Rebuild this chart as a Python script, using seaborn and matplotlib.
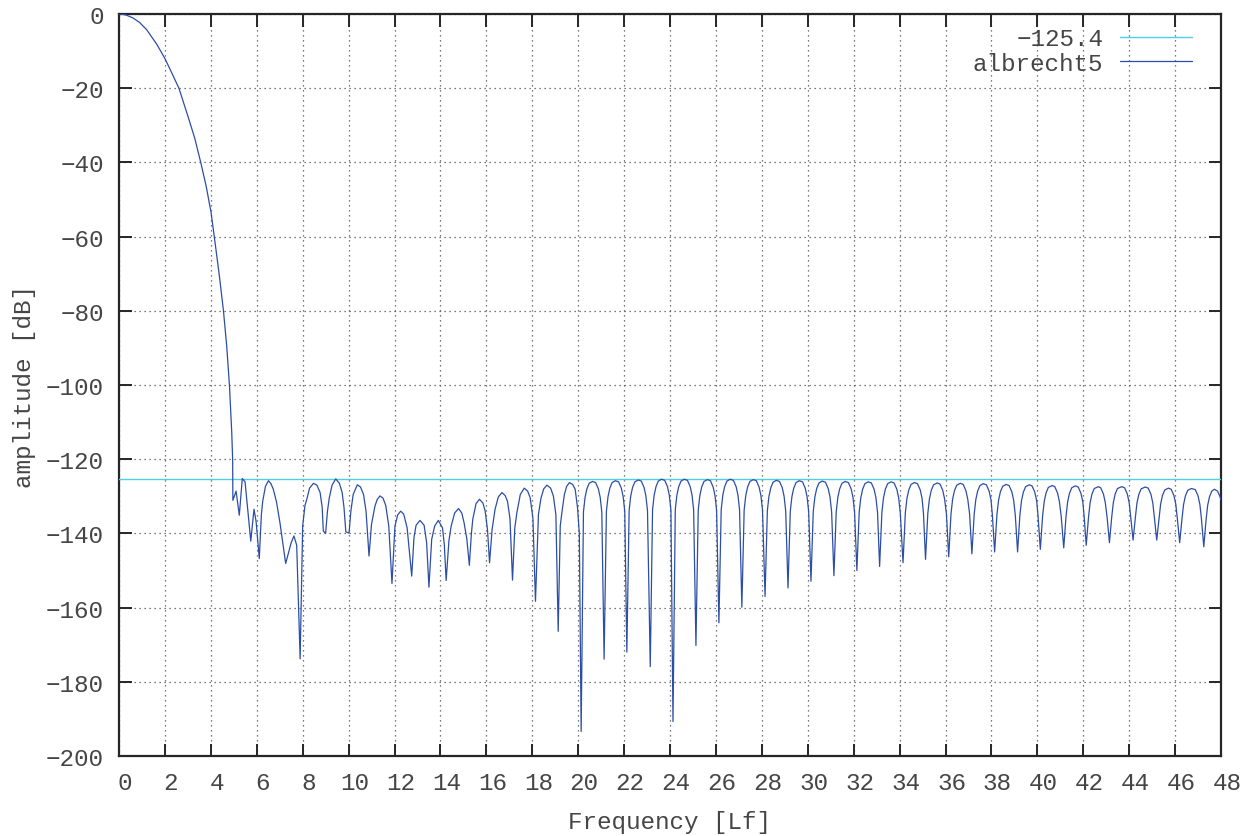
import matplotlib
matplotlib.use("Agg")
import matplotlib.pyplot as plt
import matplotlib.transforms as mtransforms
import seaborn as sns
import pandas as pd

# ---------------- data ----------------
freq = [
    # main lobe
    0.0, 0.3, 0.62, 0.9, 1.2, 1.64, 2.0, 2.3, 2.61, 3.02, 3.3, 3.56, 3.8, 4.01, 4.15, 4.37, 4.55, 4.69, 4.81, 4.91, 4.95,
    # irregular first side lobes
    4.96, 5.10, 5.24, 5.37, 5.49, 5.74, 5.88, 5.97, 6.11, 6.20, 6.26, 6.38, 6.51, 6.62, 6.72, 6.86, 7.01, 7.26,
    7.50, 7.62, 7.74, 7.89,
    8.00, 8.10, 8.18, 8.30, 8.47, 8.62, 8.76, 8.85, 8.90, 9.00,
    9.08, 9.16, 9.28, 9.44, 9.60, 9.72, 9.80, 9.88, 10.02,
    10.10, 10.20, 10.38, 10.52, 10.65, 10.76, 10.89,
    11.00, 11.15, 11.25, 11.37, 11.50, 11.62, 11.75, 11.89,
    12.02, 12.14, 12.27, 12.40, 12.55, 12.75,
    12.85, 12.94, 13.11, 13.29, 13.40, 13.50,
    13.62, 13.75, 13.91, 14.09, 14.17, 14.25,
    14.37, 14.47, 14.62, 14.79, 14.93, 15.03, 15.15, 15.26,
    15.35, 15.41, 15.55, 15.70, 15.85, 15.95, 16.05, 16.14,
    16.25, 16.38, 16.52, 16.68, 16.82, 16.92, 17.03, 17.14,
    17.24, 17.33, 17.48, 17.65, 17.80, 17.91, 18.03, 18.14,
    18.27, 18.38, 18.50, 18.64, 18.80, 18.92, 19.03, 19.13,
    19.22, 19.29, 19.40, 19.50, 19.62, 19.76, 19.87, 19.97, 20.05,
    # regular side lobes
    20.13, 20.23, 20.30, 20.38, 20.48, 20.62, 20.76, 20.88, 20.96, 21.03,
    21.13, 21.23, 21.30, 21.38, 21.48, 21.62, 21.76, 21.88, 21.96, 22.03,
    22.12, 22.22, 22.29, 22.37, 22.47, 22.62, 22.75, 22.87, 22.95, 23.02,
    23.14, 23.24, 23.31, 23.39, 23.49, 23.63, 23.77, 23.89, 23.97, 24.04,
    24.13, 24.23, 24.30, 24.38, 24.48, 24.62, 24.76, 24.88, 24.96, 25.03,
    25.13, 25.23, 25.30, 25.38, 25.48, 25.63, 25.76, 25.88, 25.96, 26.03,
    26.13, 26.23, 26.30, 26.38, 26.48, 26.62, 26.76, 26.88, 26.96, 27.03,
    27.13, 27.23, 27.30, 27.38, 27.48, 27.63, 27.76, 27.88, 27.96, 28.03,
    28.14, 28.24, 28.31, 28.39, 28.49, 28.63, 28.77, 28.89, 28.97, 29.04,
    29.14, 29.24, 29.31, 29.39, 29.49, 29.63, 29.77, 29.89, 29.97, 30.04,
    30.14, 30.24, 30.31, 30.39, 30.49, 30.63, 30.77, 30.89, 30.97, 31.04,
    31.14, 31.24, 31.31, 31.39, 31.49, 31.63, 31.77, 31.89, 31.97, 32.04,
    32.14, 32.24, 32.31, 32.39, 32.49, 32.63, 32.77, 32.89, 32.97, 33.04,
    33.13, 33.23, 33.30, 33.38, 33.48, 33.63, 33.76, 33.88, 33.96, 34.03,
    34.15, 34.25, 34.32, 34.40, 34.50, 34.64, 34.78, 34.90, 34.98, 35.04,
    35.13, 35.23, 35.30, 35.38, 35.48, 35.64, 35.76, 35.88, 35.96, 36.04,
    36.14, 36.24, 36.31, 36.39, 36.49, 36.64, 36.77, 36.89, 36.97, 37.05,
    37.15, 37.25, 37.32, 37.40, 37.50, 37.64, 37.78, 37.90, 37.98, 38.04,
    38.14, 38.24, 38.31, 38.39, 38.49, 38.64, 38.77, 38.89, 38.97, 39.04,
    39.14, 39.24, 39.31, 39.39, 39.49, 39.65, 39.77, 39.89, 39.97, 40.03,
    40.13, 40.23, 40.30, 40.38, 40.48, 40.65, 40.76, 40.88, 40.96, 41.04,
    41.15, 41.25, 41.32, 41.40, 41.50, 41.65, 41.78, 41.90, 41.98, 42.04,
    42.13, 42.23, 42.30, 42.38, 42.48, 42.66, 42.76, 42.88, 42.96, 43.04,
    43.14, 43.24, 43.31, 43.39, 43.49, 43.68, 43.80, 43.92, 44.00, 44.07,
    44.17, 44.27, 44.34, 44.42, 44.52, 44.70, 44.83, 44.95, 45.03, 45.10,
    45.20, 45.30, 45.37, 45.45, 45.55, 45.71, 45.83, 45.95, 46.03, 46.10,
    46.20, 46.30, 46.37, 46.45, 46.55, 46.71, 46.88, 47.00, 47.08, 47.15,
    47.25, 47.35, 47.42, 47.50, 47.60, 47.71, 47.85, 47.95, 48.00,
]
amplitude = [
    0.0, -0.25, -1.1, -2.3, -4.2, -8.1, -12.0, -15.9, -20.0, -27.9, -33.5, -40.0, -46.5, -53.5, -60.0, -70.5, -80.0, -89.4, -100.0, -112.7, -120.0,
    -131.1, -128.6, -135.1, -125.2, -126.1, -142.1, -133.5, -136.7, -146.8, -135.0, -131.3, -127.3, -125.8, -126.6, -128.1, -131.5, -137.1, -148.1,
    -142.5, -140.7, -143.2, -173.8,
    -138.0, -132.5, -130.8, -127.8, -126.5, -127.0, -129.0, -133.0, -139.4, -140.0,
    -134.0, -130.4, -127.0, -125.3, -126.5, -129.0, -133.0, -139.6, -139.9,
    -134.0, -129.5, -126.9, -127.5, -129.5, -134.0, -146.1,
    -137.5, -132.6, -130.8, -129.9, -130.5, -132.5, -138.0, -153.5,
    -138.0, -135.0, -134.0, -134.8, -138.5, -151.5,
    -141.0, -137.8, -136.5, -137.8, -142.5, -154.5,
    -141.6, -138.0, -136.5, -138.5, -143.0, -152.7,
    -142.0, -138.0, -134.5, -133.3, -134.5, -137.1, -141.5, -148.6,
    -140.0, -136.2, -132.0, -130.8, -131.8, -134.0, -139.0, -147.9,
    -139.0, -133.5, -130.2, -129.0, -129.8, -131.3, -136.0, -152.6,
    -138.5, -134.4, -129.5, -127.8, -128.6, -130.4, -136.0, -158.3,
    -134.9, -130.5, -128.0, -127.0, -127.8, -129.9, -135.0, -166.4,
    -138.0, -134.4, -129.5, -127.3, -126.3, -126.8, -128.1, -133.0, -140.0,
    -193.4, -134.2, -130.3, -128.0, -126.5, -126.0, -126.3, -128.0, -130.3, -134.3,
    -173.9, -134.0, -130.1, -127.8, -126.3, -125.8, -126.1, -127.8, -130.1, -134.1,
    -172.0, -133.8, -129.9, -127.6, -126.1, -125.6, -125.9, -127.6, -129.9, -133.9,
    -175.9, -133.6, -129.7, -127.4, -125.9, -125.4, -125.7, -127.4, -129.7, -133.7,
    -190.7, -133.6, -129.7, -127.4, -125.9, -125.4, -125.7, -127.4, -129.7, -133.7,
    -170.2, -133.7, -129.8, -127.5, -126.0, -125.5, -125.8, -127.5, -129.8, -133.8,
    -164.1, -133.6, -129.7, -127.4, -125.9, -125.4, -125.7, -127.4, -129.7, -133.7,
    -159.9, -133.7, -129.8, -127.5, -126.0, -125.5, -125.8, -127.5, -129.8, -133.8,
    -157.0, -133.9, -130.0, -127.7, -126.2, -125.7, -126.0, -127.7, -130.0, -134.0,
    -154.7, -134.0, -130.1, -127.8, -126.3, -125.8, -126.1, -127.8, -130.1, -134.1,
    -152.9, -134.1, -130.2, -127.9, -126.4, -125.9, -126.2, -127.9, -130.2, -134.2,
    -151.4, -134.2, -130.3, -128.0, -126.5, -126.0, -126.3, -128.0, -130.3, -134.3,
    -150.0, -134.3, -130.4, -128.1, -126.6, -126.1, -126.4, -128.1, -130.4, -134.4,
    -148.9, -134.3, -130.4, -128.1, -126.6, -126.1, -126.4, -128.1, -130.4, -134.4,
    -147.9, -134.5, -130.6, -128.3, -126.8, -126.3, -126.6, -128.3, -130.6, -134.6,
    -147.0, -134.6, -130.7, -128.4, -126.9, -126.4, -126.7, -128.4, -130.7, -134.7,
    -146.3, -134.7, -130.8, -128.5, -127.0, -126.5, -126.8, -128.5, -130.8, -134.8,
    -145.5, -134.8, -130.9, -128.6, -127.1, -126.6, -126.9, -128.6, -130.9, -134.9,
    -145.0, -135.0, -131.1, -128.8, -127.3, -126.8, -127.1, -128.8, -131.1, -135.1,
    -145.0, -135.1, -131.2, -128.9, -127.4, -126.9, -127.2, -128.9, -131.2, -135.2,
    -144.3, -135.3, -131.4, -129.1, -127.6, -127.1, -127.4, -129.1, -131.4, -135.4,
    -143.9, -135.4, -131.5, -129.2, -127.7, -127.2, -127.5, -129.2, -131.5, -135.5,
    -143.2, -135.6, -131.7, -129.4, -127.9, -127.4, -127.7, -129.4, -131.7, -135.7,
    -142.5, -135.6, -131.7, -129.4, -127.9, -127.4, -127.7, -129.4, -131.7, -135.7,
    -141.8, -135.7, -131.8, -129.5, -128.0, -127.5, -127.8, -129.5, -131.8, -135.8,
    -141.8, -136.0, -132.1, -129.8, -128.3, -127.8, -128.1, -129.8, -132.1, -136.1,
    -142.5, -136.1, -132.2, -129.9, -128.4, -127.9, -128.2, -129.9, -132.2, -136.2,
    -143.6, -136.3, -132.4, -130.1, -128.6, -128.1, -128.6, -130.0, -131.0,
]
threshold_level = -125.4
threshold_label = "\u2212125.4"
series_label = "albrecht5"
x_ticks = list(range(0, 49, 2))
y_ticks = list(range(-200, 1, 20))

# ---------------- style ----------------
sns.set_theme(style="white")
plt.rcParams['font.family'] = ['Liberation Mono', 'DejaVu Sans Mono']
plt.rcParams['axes.unicode_minus'] = True
text_color = "#454545"
fs = 17.5

fig = plt.figure(figsize=(12.53, 8.37), dpi=100)
ax = fig.add_axes([119/1253, 1 - 757/837, (1221-119)/1253, (757-15)/837])

df = pd.DataFrame({"Frequency": freq, "amplitude": amplitude})
ax.axhline(threshold_level, color="#4fcfe3", lw=1.0, label=threshold_label, zorder=3)
sns.lineplot(data=df, x="Frequency", y="amplitude", ax=ax, color="#2c4ea6",
             lw=0.9, label=series_label, sort=False, estimator=None, zorder=4)

ax.set_xlim(0, 48)
ax.set_ylim(-200, 0)
ax.set_xticks(x_ticks)
ax.set_yticks(y_ticks)
ax.set_xticklabels([str(v) for v in x_ticks])
ax.set_yticklabels([str(v).replace('-', '\u2212') for v in y_ticks])
ax.grid(True, color="#505050", linestyle=(0, (1, 3)), lw=0.9)
for s in ax.spines.values():
    s.set_color("#262626")
    s.set_linewidth(1.6)
    s.set_visible(True)
ax.tick_params(direction="in", length=9, width=1.4, color="#262626",
               top=True, right=True, bottom=True, left=True,
               labelsize=fs, labelcolor=text_color)
ax.tick_params(axis="x", pad=11)
ax.tick_params(axis="y", pad=11)
shift = mtransforms.ScaledTranslation(6/100, 0, fig.dpi_scale_trans)
for lab in ax.get_xticklabels():
    lab.set_transform(lab.get_transform() + shift)
ax.set_xlabel("Frequency [Lf]", fontsize=fs, color=text_color, labelpad=11)
ax.set_ylabel("amplitude [dB]", fontsize=fs, color=text_color, labelpad=7)

leg = ax.legend(loc="upper right", frameon=False, markerfirst=False,
                handlelength=2.95, handletextpad=0.7, fontsize=fs,
                borderpad=0.0, borderaxespad=0.0,
                bbox_to_anchor=(0.9737, 0.982), labelspacing=0.05)
for t in leg.get_texts():
    t.set_color(text_color)

fig.savefig("out.png", dpi=100, facecolor="white")
